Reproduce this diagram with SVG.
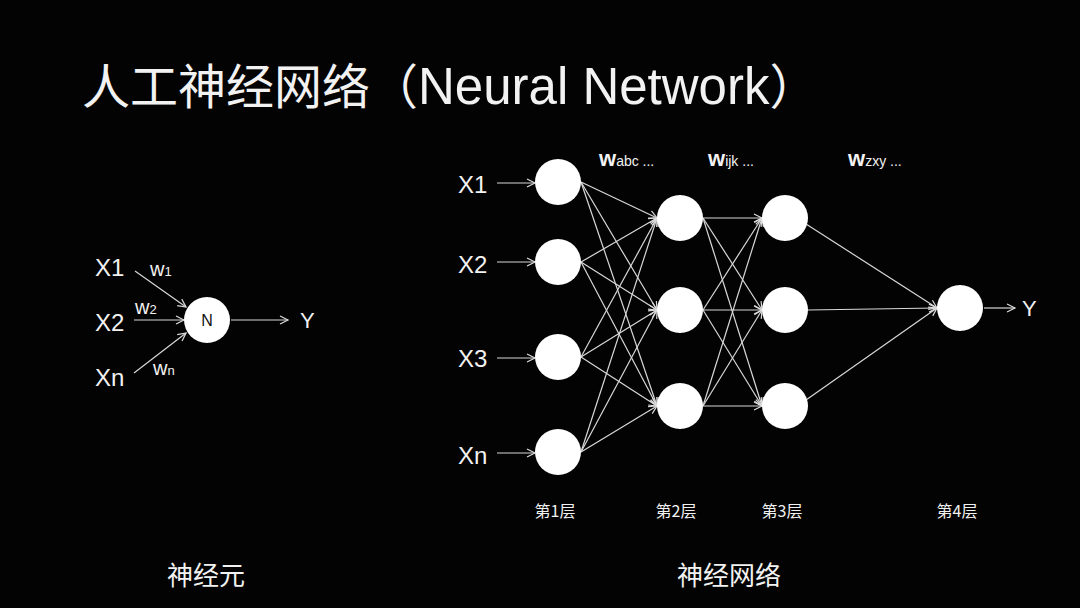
<svg xmlns="http://www.w3.org/2000/svg" width="1080" height="608" viewBox="0 0 1080 608">
<defs>
<marker id="arr" markerUnits="userSpaceOnUse" markerWidth="12" markerHeight="12" refX="9" refY="5" orient="auto">
<path d="M1,1 L9,5 L1,9" fill="none" stroke="#dcdcdc" stroke-width="1.2"/>
</marker>
</defs>
<style>
.bg{fill:#030303}
.t{fill:#f2f2f2;font-family:"Liberation Sans","Noto Sans CJK SC",sans-serif}
.c{fill:#f2f2f2;font-family:"Noto Sans CJK SC",sans-serif}
.n{fill:#ffffff}
.l{stroke:#d8d8d8;stroke-width:1.2;fill:none;marker-end:url(#arr)}
</style>
<rect class="bg" x="0" y="0" width="1080" height="608"/>
<text class="t" x="82" y="104" font-size="48">人工神经网络（<tspan font-size="51">Neural Network</tspan>）</text>

<g id="connectors">
<!-- neuron -->
<line class="l" x1="135" y1="271" x2="186" y2="307"/>
<line class="l" x1="134" y1="320" x2="184" y2="320"/>
<line class="l" x1="134" y1="373" x2="186" y2="333"/>
<line class="l" x1="231" y1="320" x2="288" y2="320"/>
<!-- inputs -->
<line class="l" x1="497" y1="183" x2="535" y2="183"/>
<line class="l" x1="497" y1="262" x2="535" y2="262"/>
<line class="l" x1="497" y1="358" x2="535" y2="358"/>
<line class="l" x1="497" y1="453" x2="535" y2="453"/>
<!-- layer1 to layer2 -->
<line class="l" x1="581" y1="182" x2="657" y2="218"/>
<line class="l" x1="581" y1="182" x2="657" y2="310"/>
<line class="l" x1="581" y1="182" x2="657" y2="406"/>
<line class="l" x1="581" y1="262" x2="657" y2="218"/>
<line class="l" x1="581" y1="262" x2="657" y2="310"/>
<line class="l" x1="581" y1="262" x2="657" y2="406"/>
<line class="l" x1="581" y1="357" x2="657" y2="218"/>
<line class="l" x1="581" y1="357" x2="657" y2="310"/>
<line class="l" x1="581" y1="357" x2="657" y2="406"/>
<line class="l" x1="581" y1="452" x2="657" y2="218"/>
<line class="l" x1="581" y1="452" x2="657" y2="310"/>
<line class="l" x1="581" y1="452" x2="657" y2="406"/>
<!-- layer2 to layer3 -->
<line class="l" x1="703" y1="218" x2="762" y2="218"/>
<line class="l" x1="703" y1="218" x2="762" y2="310"/>
<line class="l" x1="703" y1="218" x2="762" y2="406"/>
<line class="l" x1="703" y1="310" x2="762" y2="218"/>
<line class="l" x1="703" y1="310" x2="762" y2="310"/>
<line class="l" x1="703" y1="310" x2="762" y2="406"/>
<line class="l" x1="703" y1="406" x2="762" y2="218"/>
<line class="l" x1="703" y1="406" x2="762" y2="310"/>
<line class="l" x1="703" y1="406" x2="762" y2="406"/>
<!-- layer3 to layer4 -->
<line class="l" x1="806" y1="224" x2="937" y2="308"/>
<line class="l" x1="808" y1="310" x2="937" y2="308"/>
<line class="l" x1="806" y1="400" x2="937" y2="308"/>
<!-- output -->
<line class="l" x1="984" y1="308" x2="1015" y2="308"/>
</g>

<g id="neuron">
<circle class="n" cx="207" cy="320" r="23"/>
<text x="207" y="326" font-size="16" text-anchor="middle" fill="#111" font-family="Liberation Sans,sans-serif">N</text>
</g>
<g id="neuron-labels">
<text class="t" x="95" y="276" font-size="24">X1</text>
<text class="t" x="95" y="331" font-size="24">X2</text>
<text class="t" x="95" y="386" font-size="24">Xn</text>
<text class="t" x="300" y="328" font-size="22">Y</text>
<text class="t" x="150" y="276" font-size="20">w<tspan font-size="13">1</tspan></text>
<text class="t" x="135" y="314" font-size="20">w<tspan font-size="13">2</tspan></text>
<text class="t" x="153" y="375" font-size="20">w<tspan font-size="13">n</tspan></text>
<text class="c" x="206" y="585" font-size="26" text-anchor="middle">神经元</text>
</g>

<g id="layer1">
<circle class="n" cx="558" cy="182" r="23"/>
<circle class="n" cx="558" cy="262" r="23"/>
<circle class="n" cx="558" cy="357" r="23"/>
<circle class="n" cx="558" cy="452" r="23"/>
</g>
<g id="layer2">
<circle class="n" cx="680" cy="218" r="23"/>
<circle class="n" cx="680" cy="310" r="23"/>
<circle class="n" cx="680" cy="406" r="23"/>
</g>
<g id="layer3">
<circle class="n" cx="785" cy="218" r="23"/>
<circle class="n" cx="785" cy="310" r="23"/>
<circle class="n" cx="785" cy="406" r="23"/>
</g>
<g id="layer4">
<circle class="n" cx="960" cy="308" r="23"/>
</g>

<g id="net-labels">
<text class="t" x="458" y="193" font-size="24">X1</text>
<text class="t" x="458" y="273" font-size="24">X2</text>
<text class="t" x="458" y="367" font-size="24">X3</text>
<text class="t" x="458" y="464" font-size="24">Xn</text>
<text class="t" x="1022" y="316" font-size="22">Y</text>
<text class="t" x="599" y="166" font-size="22" font-weight="bold">w<tspan font-size="14" font-weight="normal">abc ...</tspan></text>
<text class="t" x="708" y="166" font-size="22" font-weight="bold">w<tspan font-size="14" font-weight="normal">ijk ...</tspan></text>
<text class="t" x="848" y="166" font-size="22" font-weight="bold">w<tspan font-size="14" font-weight="normal">zxy ...</tspan></text>
<text class="c" x="555" y="517" font-size="16" text-anchor="middle">第1层</text>
<text class="c" x="676" y="517" font-size="16" text-anchor="middle">第2层</text>
<text class="c" x="782" y="517" font-size="16" text-anchor="middle">第3层</text>
<text class="c" x="957" y="517" font-size="16" text-anchor="middle">第4层</text>
<text class="c" x="729" y="585" font-size="26" text-anchor="middle">神经网络</text>
</g>
</svg>
